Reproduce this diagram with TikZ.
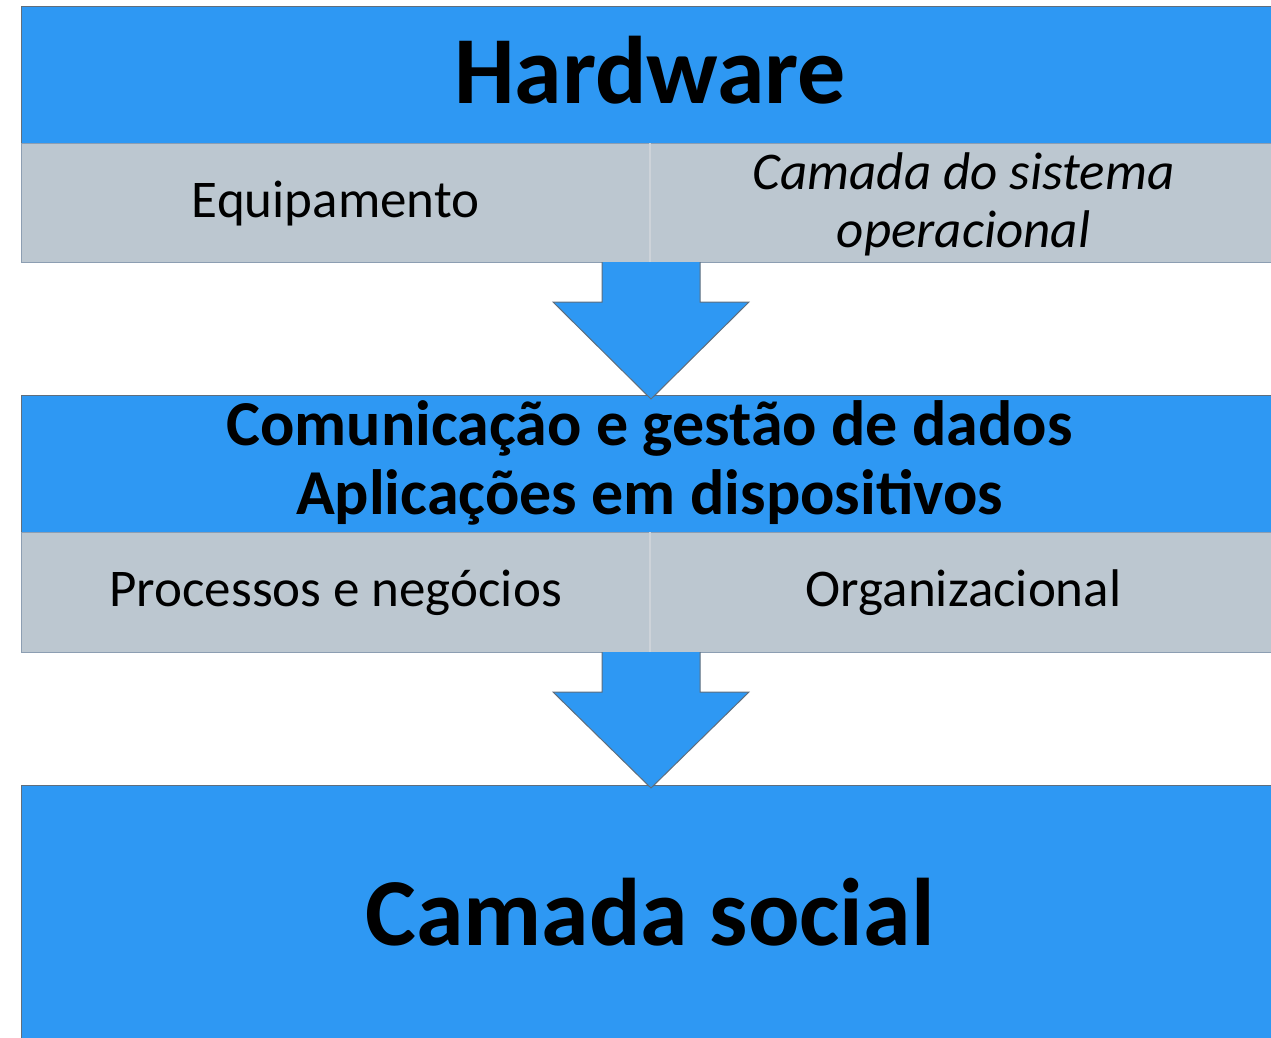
\documentclass[tikz,border=0pt]{standalone}
\usepackage{fontspec}
\setmainfont{Carlito}
\definecolor{hblue}{RGB}{46,152,243}
\definecolor{cellgray}{RGB}{188,199,208}
\definecolor{edgegray}{RGB}{95,110,125}
\definecolor{celledge}{RGB}{140,158,178}
\definecolor{divider}{RGB}{205,211,217}
\tikzset{
  bluebox/.style={draw=edgegray, fill=hblue, line width=1.2pt, anchor=north west, inner sep=0pt},
  cellbox/.style={draw=celledge, fill=cellgray, line width=1.2pt, anchor=north west, inner sep=0pt},
  blockarrow/.style={draw=edgegray, fill=hblue, line width=1pt, line join=miter},
  bigtitle/.style={font=\fontsize{96}{100}\selectfont\bfseries, align=center, inner sep=0pt},
  midtitle/.style={font=\fontsize{64}{69}\selectfont\bfseries, align=center, inner sep=0pt},
  celltext/.style={font=\fontsize{53}{58}\selectfont, align=center, inner sep=0pt},
  cellital/.style={font=\fontsize{53}{58}\selectfont\itshape, align=center, inner sep=0pt},
}
\begin{document}
\begin{tikzpicture}[x=1pt,y=-1pt]
\useasboundingbox (0,0) rectangle (1271,1037);
% top block
\node[bluebox, minimum width=1256pt, minimum height=137pt] (hw) at (21,6) {};
\node[bigtitle] (hwt) at (650,70) {Hardware};
\node[cellbox, minimum width=628pt, minimum height=119pt] (eq) at (21,143) {};
\node[cellbox, minimum width=628pt, minimum height=119pt] (so) at (649,143) {};
\draw[divider, line width=1.5pt] (eq.north east) -- (eq.south east);
\node[celltext] (eqt) at (eq.center) {Equipamento};
\node[cellital] (sot) at ([yshift=-1pt]so.center) {Camada do sistema\\operacional};
% middle block
\node[bluebox, minimum width=1256pt, minimum height=137pt] (comm) at (21,395) {};
\node[midtitle] (commt) at ([yshift=1pt]comm.center) {Comunicação e gestão de dados\\Aplicações em dispositivos};
\node[cellbox, minimum width=628pt, minimum height=120pt] (proc) at (21,532) {};
\node[cellbox, minimum width=628pt, minimum height=120pt] (org) at (649,532) {};
\draw[divider, line width=1.5pt] (proc.north east) -- (proc.south east);
\node[celltext] (proct) at (proc.center) {Processos e negócios};
\node[celltext] (orgt) at (org.center) {Organizacional};
% bottom block
\node[bluebox, minimum width=1256pt, minimum height=262pt] (social) at (21,785) {};
\node[bigtitle] (socialt) at (650,912) {Camada social};
% block arrows
\coordinate (a1) at (651,262);
\draw[blockarrow] (602,262) -- (602,302) -- (553,302) -- (651,399) -- (749,302) -- (700,302) -- (700,262);
\coordinate (a2) at (651,652);
\draw[blockarrow] (602,652) -- (602,692) -- (553,692) -- (651,788) -- (749,692) -- (700,692) -- (700,652);
\end{tikzpicture}
\end{document}
